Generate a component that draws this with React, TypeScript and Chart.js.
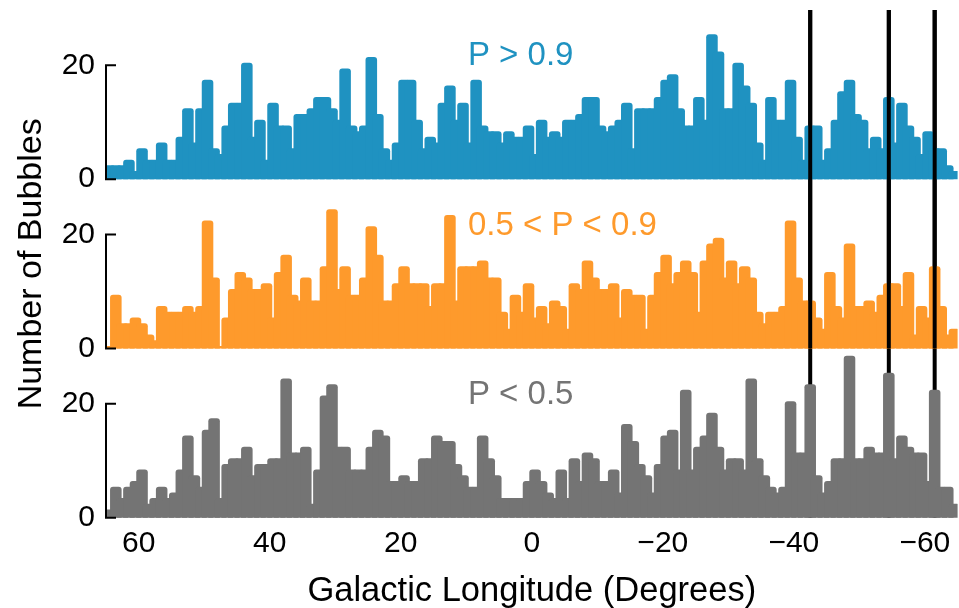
import React, { useEffect, useRef } from 'react';
import { Chart, registerables } from 'chart.js';

Chart.register(...registerables);

// Histogram bin centres (1-degree bins from l = 65 down to l = -65)
const binCenters: number[] = [
  64.5, 63.5, 62.5, 61.5, 60.5, 59.5, 58.5, 57.5, 56.5, 55.5,
  54.5, 53.5, 52.5, 51.5, 50.5, 49.5, 48.5, 47.5, 46.5, 45.5,
  44.5, 43.5, 42.5, 41.5, 40.5, 39.5, 38.5, 37.5, 36.5, 35.5,
  34.5, 33.5, 32.5, 31.5, 30.5, 29.5, 28.5, 27.5, 26.5, 25.5,
  24.5, 23.5, 22.5, 21.5, 20.5, 19.5, 18.5, 17.5, 16.5, 15.5,
  14.5, 13.5, 12.5, 11.5, 10.5, 9.5, 8.5, 7.5, 6.5, 5.5,
  4.5, 3.5, 2.5, 1.5, 0.5, -0.5, -1.5, -2.5, -3.5, -4.5,
  -5.5, -6.5, -7.5, -8.5, -9.5, -10.5, -11.5, -12.5, -13.5, -14.5,
  -15.5, -16.5, -17.5, -18.5, -19.5, -20.5, -21.5, -22.5, -23.5, -24.5,
  -25.5, -26.5, -27.5, -28.5, -29.5, -30.5, -31.5, -32.5, -33.5, -34.5,
  -35.5, -36.5, -37.5, -38.5, -39.5, -40.5, -41.5, -42.5, -43.5, -44.5,
  -45.5, -46.5, -47.5, -48.5, -49.5, -50.5, -51.5, -52.5, -53.5, -54.5,
  -55.5, -56.5, -57.5, -58.5, -59.5, -60.5, -61.5, -62.5, -63.5, -64.5,
];

// Bubble counts per bin, P > 0.9
const highProbCounts: number[] = [
  2, 2, 2, 3, 1, 5, 3, 3, 6, 3,
  3, 7, 12, 6, 12, 17, 5, 4, 9, 13,
  13, 20, 7, 10, 3, 13, 9, 9, 5, 11,
  11, 12, 14, 14, 12, 10, 19, 9, 8, 9,
  21, 11, 5, 3, 6, 17, 17, 10, 5, 7,
  6, 13, 16, 10, 13, 6, 17, 9, 8, 8,
  6, 8, 7, 7, 9, 4, 10, 7, 8, 7,
  10, 10, 11, 14, 14, 9, 8, 9, 10, 13,
  5, 12, 12, 12, 14, 17, 18, 12, 9, 9,
  14, 10, 25, 22, 12, 12, 20, 16, 13, 6,
  3, 14, 10, 10, 17, 7, 3, 9, 9, 3,
  5, 10, 15, 17, 11, 10, 5, 7, 5, 14,
  6, 13, 9, 7, 4, 8, 5, 5, 2, 1,
];

// Bubble counts per bin, 0.5 < P < 0.9
const midProbCounts: number[] = [
  0, 9, 4, 4, 5, 4, 2, 1, 7, 6,
  6, 6, 7, 6, 7, 22, 12, 0, 5, 10,
  13, 12, 10, 10, 11, 5, 13, 16, 9, 8,
  12, 8, 8, 14, 24, 10, 14, 9, 9, 12,
  21, 16, 8, 8, 11, 14, 11, 11, 11, 7,
  11, 11, 23, 8, 14, 14, 14, 15, 12, 12,
  6, 3, 9, 6, 11, 5, 7, 4, 8, 7,
  3, 11, 10, 15, 12, 10, 10, 11, 5, 10,
  9, 9, 3, 9, 13, 16, 11, 13, 15, 13,
  6, 15, 18, 19, 12, 15, 11, 14, 12, 6,
  4, 6, 6, 7, 22, 12, 8, 8, 5, 3,
  13, 7, 5, 18, 7, 7, 8, 6, 9, 11,
  11, 7, 13, 2, 7, 5, 14, 7, 2, 3,
];

// Bubble counts per bin, P < 0.5
const lowProbCounts: number[] = [
  1, 5, 3, 5, 6, 8, 2, 3, 5, 3,
  4, 8, 14, 7, 5, 15, 17, 3, 9, 10,
  10, 12, 7, 9, 9, 10, 10, 24, 11, 11,
  12, 2, 8, 21, 23, 12, 12, 8, 8, 8,
  12, 15, 14, 6, 6, 7, 6, 6, 10, 10,
  14, 13, 13, 9, 7, 5, 5, 14, 10, 7,
  3, 3, 3, 3, 6, 8, 6, 4, 3, 8,
  3, 10, 6, 11, 10, 6, 6, 8, 4, 16,
  13, 9, 7, 4, 9, 14, 15, 8, 22, 8,
  12, 14, 18, 12, 8, 10, 10, 8, 24, 10,
  7, 5, 4, 5, 20, 11, 11, 23, 7, 4,
  6, 10, 10, 28, 10, 10, 12, 11, 11, 25,
  10, 14, 12, 11, 11, 6, 22, 5, 5, 2,
];

const xTickValues: number[] = [60, 40, 20, 0, -20, -40, -60];
const yTickValues: number[] = [0, 20];
const markerLongitudes: number[] = [-42.5, -54.5, -61.5];
const panelLabels: string[] = ['P > 0.9', '0.5 < P < 0.9', 'P < 0.5'];
const panelColors: string[] = ['#1f92c1', '#fe9a2c', '#747474'];
const panelAxisIds: string[] = ['yHigh', 'yMid', 'yLow'];
const panelSeries: number[][] = [highProbCounts, midProbCounts, lowProbCounts];

const FONT = "'Liberation Sans', Arial, Helvetica, sans-serif";
const Y_MAX = 29.7;
const LABEL_LONGITUDE = 9.75;

function panelAxis() {
  return {
    type: 'linear',
    position: 'left',
    stack: 'panels',
    stackWeight: 1,
    min: 0,
    max: Y_MAX,
    grid: { display: false, drawTicks: false },
    border: { display: false },
    afterBuildTicks: (s: any) => {
      s.ticks = yTickValues.map((v) => ({ value: v }));
    },
    afterFit: (s: any) => {
      s.width = 106;
      s.paddingTop = 0;
      s.paddingBottom = 0;
    },
    ticks: {
      font: { family: FONT, size: 30 },
      color: '#000',
      padding: 11,
    },
  };
}

function drawMarkers(chart: any, full: boolean) {
  const { ctx, chartArea, scales } = chart;
  const bottom = full ? scales.yLow.getPixelForValue(0) : scales.yLow.top;
  ctx.save();
  ctx.strokeStyle = '#000';
  ctx.lineWidth = 4;
  for (const lon of markerLongitudes) {
    const x = scales.x.getPixelForValue(lon);
    ctx.beginPath();
    ctx.moveTo(x, chartArea.top);
    ctx.lineTo(x, bottom);
    ctx.stroke();
  }
  ctx.restore();
}

const decorations = {
  id: 'panelDecorations',
  beforeDatasetsDraw(chart: any) {
    drawMarkers(chart, true);
  },
  afterDatasetsDraw(chart: any) {
    drawMarkers(chart, false);
    const { ctx, chartArea, scales } = chart;
    // trimmed y spines (0..20) with inward ticks
    ctx.save();
    ctx.strokeStyle = '#000';
    ctx.lineWidth = 2;
    ctx.lineJoin = 'miter';
    for (const id of panelAxisIds) {
      const s = scales[id];
      const x0 = chartArea.left;
      const y0 = s.getPixelForValue(0);
      const y20 = s.getPixelForValue(20);
      ctx.beginPath();
      ctx.moveTo(x0 + 10, y20);
      ctx.lineTo(x0, y20);
      ctx.lineTo(x0, y0);
      ctx.lineTo(x0 + 10, y0);
      ctx.stroke();
    }
    ctx.restore();

    // panel captions
    ctx.save();
    ctx.font = `33px ${FONT}`;
    ctx.textAlign = 'left';
    ctx.textBaseline = 'alphabetic';
    const lx = scales.x.getPixelForValue(LABEL_LONGITUDE);
    panelAxisIds.forEach((id, i) => {
      ctx.fillStyle = panelColors[i];
      ctx.fillText(panelLabels[i], lx, scales[id].getPixelForValue(20));
    });
    ctx.restore();

    // shared y title
    ctx.save();
    ctx.font = `34px ${FONT}`;
    ctx.fillStyle = '#000';
    ctx.textAlign = 'center';
    ctx.textBaseline = 'middle';
    ctx.translate(32, (chartArea.top + chartArea.bottom) / 2);
    ctx.rotate(-Math.PI / 2);
    ctx.fillText('Number of Bubbles', 0, 0);
    ctx.restore();
  },
};

export default function App() {
  const canvasRef = useRef<HTMLCanvasElement>(null);

  useEffect(() => {
    const canvas = canvasRef.current;
    if (!canvas) return;
    const chart = new Chart(canvas, {
      type: 'bar',
      data: {
        datasets: panelSeries.map((vals, i) => ({
          label: panelLabels[i],
          data: binCenters.map((x, k) => ({ x, y: vals[k] })),
          yAxisID: panelAxisIds[i],
          backgroundColor: panelColors[i],
          borderWidth: 0,
          borderRadius: 3,
          borderSkipped: 'start',
          inflateAmount: 2.5,
          grouped: false,
          barPercentage: 1,
          categoryPercentage: 1,
          clip: 0,
        })) as any,
      },
      options: {
        animation: false,
        responsive: false,
        maintainAspectRatio: false,
        devicePixelRatio: 1,
        events: [],
        layout: { padding: { top: 10, right: 1.4, left: 0, bottom: 0 } },
        plugins: {
          legend: { display: false },
          tooltip: { enabled: false },
        },
        scales: {
          x: {
            type: 'linear',
            min: -65,
            max: 65,
            reverse: true,
            offset: false,
            grid: { display: false, drawTicks: false, offset: false },
            border: { display: false },
            afterBuildTicks: (s: any) => {
              s.ticks = xTickValues.map((v) => ({ value: v }));
            },
            afterFit: (s: any) => {
              s.height = 90.3;
              s.paddingLeft = 0;
              s.paddingRight = 0;
            },
            ticks: {
              font: { family: FONT, size: 30 },
              color: '#000',
              padding: 8,
              maxRotation: 0,
              autoSkip: false,
              callback: (v: any) => (v < 0 ? '\u2212' + Math.abs(v) : String(v)),
            },
            title: {
              display: true,
              text: 'Galactic Longitude (Degrees)',
              font: { family: FONT, size: 34.5, lineHeight: 0.95 },
              color: '#000',
              padding: { top: 0, bottom: 0 },
            },
          },
          // stacked panels: first listed sits at the bottom
          yLow: panelAxis(),
          yMid: panelAxis(),
          yHigh: panelAxis(),
        } as any,
      },
      plugins: [decorations],
    });
    return () => chart.destroy();
  }, []);

  return (
    <div style={{ position: 'absolute', left: 0, top: 0, width: 959, height: 608, background: '#fff' }}>
      <canvas ref={canvasRef} width={959} height={608} style={{ display: 'block', width: 959, height: 608 }} />
    </div>
  );
}
